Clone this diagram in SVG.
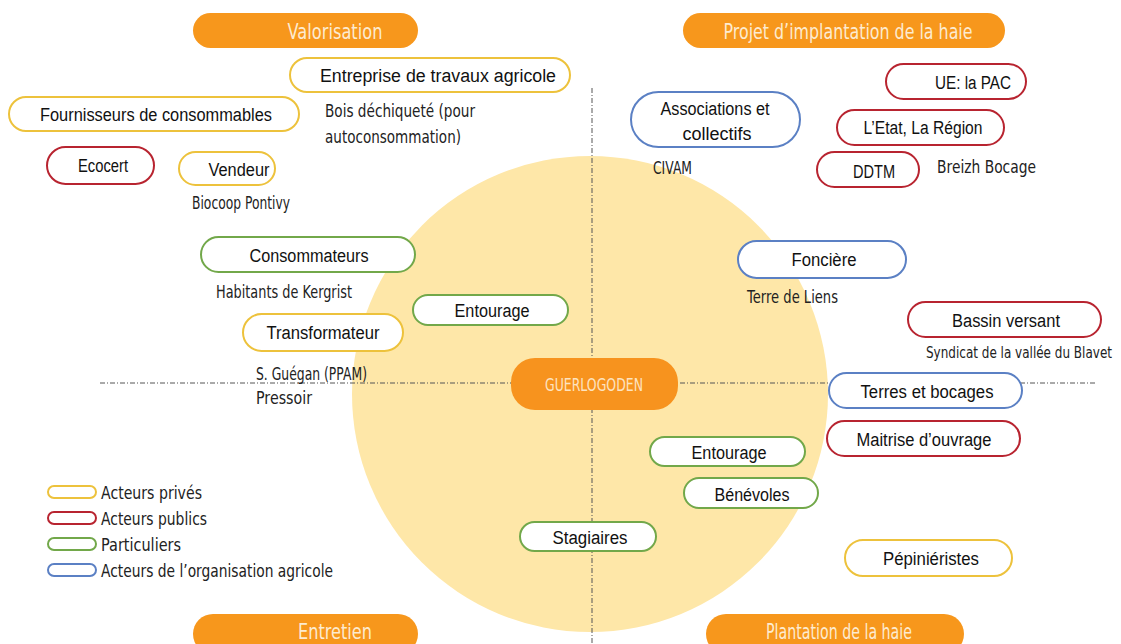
<svg xmlns="http://www.w3.org/2000/svg" width="1121" height="644" viewBox="0 0 1121 644">
<style>
.hdr{fill:#F7971C}
.hdrt{font-family:"DejaVu Sans",sans-serif;font-size:21px;fill:#FDEBD0;text-anchor:middle}
.n{fill:#fff;stroke-width:2}
.y{stroke:#EDC23C}.r{stroke:#B82430}.g{stroke:#72A84A}.b{stroke:#5B80C4}
.lb{font-family:"Liberation Sans",Arial,sans-serif;font-size:18px;fill:#111;text-anchor:middle}
.sub{font-family:"DejaVu Sans",sans-serif;font-size:17px;fill:#222}
.ln{stroke:#555;stroke-width:1;fill:none;stroke-dasharray:5 2 1 2}
</style>
<rect width="1121" height="644" fill="#fff"/>
<circle cx="590" cy="394" r="238" fill="#FEE7A8"/>
<g id="connectors">
<line class="ln" x1="592" y1="88" x2="592" y2="644"/>
<line class="ln" x1="100" y1="383" x2="1096" y2="383"/>
</g>
<g id="valorisation"><rect class="hdr" x="193" y="13" width="225" height="35" rx="17.5"/><text class="hdrt" x="335" y="39" textLength="95" lengthAdjust="spacingAndGlyphs">Valorisation</text></g>
<g id="projet"><rect class="hdr" x="683" y="13" width="322" height="35" rx="17.5"/><text class="hdrt" x="848" y="39" textLength="249" lengthAdjust="spacingAndGlyphs">Projet d’implantation de la haie</text></g>
<g id="entretien"><rect class="hdr" x="193" y="614" width="225" height="40" rx="20"/><text class="hdrt" x="335" y="639" textLength="74" lengthAdjust="spacingAndGlyphs">Entretien</text></g>
<g id="plantation"><rect class="hdr" x="706" y="614" width="258" height="40" rx="20"/><text class="hdrt" x="839" y="639" textLength="146" lengthAdjust="spacingAndGlyphs">Plantation de la  haie</text></g>
<g id="guerlogoden"><rect x="511" y="358" width="167" height="52" rx="24" fill="#F7931E"/><text x="594" y="391" textLength="98" lengthAdjust="spacingAndGlyphs" style="font-family:'DejaVu Sans',sans-serif;font-size:18px;fill:#FDE3C0;text-anchor:middle">GUERLOGODEN</text></g>
<g id="entreprise"><rect class="n y" x="290" y="58" width="280" height="34" rx="17"/><text class="lb" x="438" y="82" textLength="236" lengthAdjust="spacingAndGlyphs">Entreprise de travaux agricole</text></g>
<text class="sub" x="325" y="117" textLength="150" lengthAdjust="spacingAndGlyphs">Bois déchiqueté (pour</text>
<text class="sub" x="325" y="143" textLength="136" lengthAdjust="spacingAndGlyphs">autoconsommation)</text>
<g id="fournisseurs"><rect class="n y" x="9" y="97" width="290" height="34" rx="17"/><text class="lb" x="156" y="121" textLength="232" lengthAdjust="spacingAndGlyphs">Fournisseurs de consommables</text></g>
<g id="ecocert"><rect class="n r" x="47" y="147" width="107" height="37" rx="18.5"/><text class="lb" x="103" y="172" textLength="50" lengthAdjust="spacingAndGlyphs">Ecocert</text></g>
<g id="vendeur"><rect class="n y" x="179" y="152" width="96" height="33" rx="16.5"/><text class="lb" x="239" y="176" textLength="61" lengthAdjust="spacingAndGlyphs">Vendeur</text></g>
<text class="sub" x="192" y="209" textLength="98" lengthAdjust="spacingAndGlyphs">Biocoop Pontivy</text>
<g id="associations"><rect class="n b" x="631" y="92" width="169" height="55" rx="27.5"/><text class="lb" x="715" y="115" textLength="109" lengthAdjust="spacingAndGlyphs">Associations et</text><text class="lb" x="717" y="140" textLength="69" lengthAdjust="spacingAndGlyphs">collectifs</text></g>
<text class="sub" x="653" y="174" textLength="39" lengthAdjust="spacingAndGlyphs">CIVAM</text>
<g id="ue"><rect class="n r" x="886" y="64" width="140" height="35" rx="17.5"/><text class="lb" x="973" y="89" textLength="76" lengthAdjust="spacingAndGlyphs">UE: la PAC</text></g>
<g id="etat"><rect class="n r" x="837" y="110" width="167" height="35" rx="17.5"/><text class="lb" x="923" y="134" textLength="119" lengthAdjust="spacingAndGlyphs">L’Etat, La Région</text></g>
<g id="ddtm"><rect class="n r" x="817" y="152" width="102" height="35" rx="17.5"/><text class="lb" x="874" y="178" textLength="42" lengthAdjust="spacingAndGlyphs">DDTM</text></g>
<text class="sub" x="937" y="173" textLength="99" lengthAdjust="spacingAndGlyphs">Breizh Bocage</text>
<g id="consommateurs"><rect class="n g" x="201" y="237" width="214" height="35" rx="17.5"/><text class="lb" x="309" y="262" textLength="119" lengthAdjust="spacingAndGlyphs">Consommateurs</text></g>
<text class="sub" x="216" y="298" textLength="136" lengthAdjust="spacingAndGlyphs">Habitants de Kergrist</text>
<g id="entourage1"><rect class="n g" x="413" y="295" width="155" height="30" rx="15"/><text class="lb" x="492" y="317" textLength="75" lengthAdjust="spacingAndGlyphs">Entourage</text></g>
<g id="transformateur"><rect class="n y" x="243" y="314" width="160" height="37" rx="18.5"/><text class="lb" x="323" y="339" textLength="113" lengthAdjust="spacingAndGlyphs">Transformateur</text></g>
<text class="sub" x="256" y="380" textLength="111" lengthAdjust="spacingAndGlyphs">S. Guégan (PPAM)</text>
<text class="sub" x="256" y="404" textLength="56" lengthAdjust="spacingAndGlyphs">Pressoir</text>
<g id="fonciere"><rect class="n b" x="738" y="241" width="168" height="37" rx="18.5"/><text class="lb" x="824" y="266" textLength="65" lengthAdjust="spacingAndGlyphs">Foncière</text></g>
<text class="sub" x="747" y="303" textLength="91" lengthAdjust="spacingAndGlyphs">Terre de Liens</text>
<g id="bassin"><rect class="n r" x="908" y="302" width="193" height="35" rx="17.5"/><text class="lb" x="1006" y="327" textLength="108" lengthAdjust="spacingAndGlyphs">Bassin versant</text></g>
<text class="sub" x="926" y="358" textLength="186" lengthAdjust="spacingAndGlyphs" style="font-size:16px">Syndicat de la vallée du Blavet</text>
<g id="terres"><rect class="n b" x="829" y="373" width="193" height="35" rx="17.5"/><text class="lb" x="927" y="398" textLength="133" lengthAdjust="spacingAndGlyphs">Terres et bocages</text></g>
<g id="maitrise"><rect class="n r" x="827" y="421" width="193" height="35" rx="17.5"/><text class="lb" x="924" y="446" textLength="135" lengthAdjust="spacingAndGlyphs">Maitrise d’ouvrage</text></g>
<g id="entourage2"><rect class="n g" x="650" y="437" width="155" height="29" rx="14.5"/><text class="lb" x="729" y="459" textLength="75" lengthAdjust="spacingAndGlyphs">Entourage</text></g>
<g id="benevoles"><rect class="n g" x="684" y="478" width="134" height="30" rx="15"/><text class="lb" x="752" y="501" textLength="75" lengthAdjust="spacingAndGlyphs">Bénévoles</text></g>
<g id="stagiaires"><rect class="n g" x="520" y="522" width="136" height="29" rx="14.5"/><text class="lb" x="590" y="544" textLength="75" lengthAdjust="spacingAndGlyphs">Stagiaires</text></g>
<g id="pepinieristes"><rect class="n y" x="845" y="540" width="167" height="36" rx="18"/><text class="lb" x="931" y="565" textLength="96" lengthAdjust="spacingAndGlyphs">Pépiniéristes</text></g>
<g id="legend">
<rect class="n y" x="48" y="486" width="48" height="12" rx="6"/><text class="sub" x="101" y="499" textLength="101" lengthAdjust="spacingAndGlyphs">Acteurs privés</text>
<rect class="n r" x="48" y="512" width="48" height="12" rx="6"/><text class="sub" x="101" y="525" textLength="106" lengthAdjust="spacingAndGlyphs">Acteurs publics</text>
<rect class="n g" x="48" y="538" width="48" height="12" rx="6"/><text class="sub" x="101" y="551" textLength="80" lengthAdjust="spacingAndGlyphs">Particuliers</text>
<rect class="n b" x="48" y="564" width="48" height="12" rx="6"/><text class="sub" x="101" y="577" textLength="232" lengthAdjust="spacingAndGlyphs">Acteurs de l’organisation agricole</text>
</g>
</svg>
